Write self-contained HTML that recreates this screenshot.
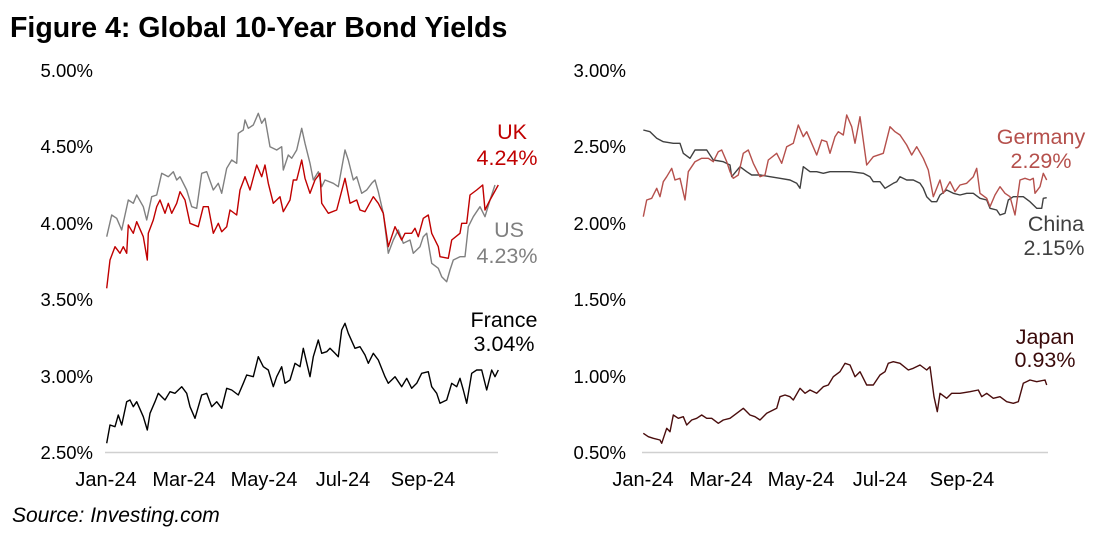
<!DOCTYPE html>
<html><head><meta charset="utf-8"><style>
body{margin:0;background:#fff;width:1104px;height:539px;overflow:hidden;font-family:"Liberation Sans",Arial,sans-serif}
</style></head><body>
<svg id="s" width="1104" height="539" xmlns="http://www.w3.org/2000/svg" font-family="Liberation Sans, Arial, sans-serif">
<text x="10" y="37" font-size="28.5" font-weight="bold">Figure 4: Global 10-Year Bond Yields</text>
<g font-size="18.5" fill="#000" text-anchor="end">
<text x="93" y="77">5.00%</text><text x="93" y="153">4.50%</text><text x="93" y="230">4.00%</text><text x="93" y="306">3.50%</text><text x="93" y="383">3.00%</text><text x="93" y="459">2.50%</text>
<text x="626" y="77">3.00%</text><text x="626" y="153">2.50%</text><text x="626" y="230">2.00%</text><text x="626" y="306">1.50%</text><text x="626" y="383">1.00%</text><text x="626" y="459">0.50%</text>
</g>
<g font-size="20" text-anchor="middle">
<text x="106" y="486">Jan-24</text><text x="184" y="486">Mar-24</text><text x="264" y="486">May-24</text><text x="343" y="486">Jul-24</text><text x="423" y="486">Sep-24</text>
<text x="643" y="486">Jan-24</text><text x="721" y="486">Mar-24</text><text x="801" y="486">May-24</text><text x="880" y="486">Jul-24</text><text x="962" y="486">Sep-24</text>
</g>
<line x1="105" y1="452.5" x2="498" y2="452.5" stroke="#d0d0d0" stroke-width="1.5"/>
<line x1="642" y1="452.5" x2="1048" y2="452.5" stroke="#d0d0d0" stroke-width="1.5"/>
<g font-size="21.5" text-anchor="middle">
<text x="512" y="139" fill="#c00000">UK</text><text x="507" y="165" fill="#c00000">4.24%</text>
<text x="509" y="237" fill="#808080">US</text><text x="507" y="263" fill="#808080">4.23%</text>
<text x="504" y="327" fill="#000">France</text><text x="504" y="351" fill="#000">3.04%</text>
<text x="1041" y="144" fill="#b5504c">Germany</text><text x="1041" y="168" fill="#b5504c">2.29%</text>
<text x="1056" y="231" fill="#404040">China</text><text x="1054" y="255" fill="#404040">2.15%</text>
<text x="1045" y="344" fill="#3a0a0a">Japan</text><text x="1045" y="367" fill="#3a0a0a">0.93%</text>
</g>
<text x="12" y="522" font-size="21" font-style="italic">Source: Investing.com</text>
<g id="lines" fill="none" stroke-width="1.4" stroke-linejoin="round"></g>
</svg>
<script>
const L=[
["#808080",90,"50,410 65,345 80,355 95,390 115,300 130,310 140,285 160,320 170,360 185,290 200,285 215,220 235,230 250,215 260,240 270,230 290,270 305,320 320,325 335,220 350,215 370,270 385,250 395,280 410,205 425,180 440,190 445,100 460,90 465,60 475,85 490,75 505,40 515,70 525,55 540,140 560,150 575,140 580,210 595,165 605,175 620,150 635,85 645,130 660,190 670,240 685,215 695,260 705,240 730,250 745,260 765,150 775,180 790,240 800,230 815,280 830,270 845,250 855,240 865,275 880,340 895,460 910,420 925,390 940,430 960,420 970,460 990,440 1000,410 1010,400 1025,490 1045,505 1055,530 1070,545 1080,510 1090,480 1110,470 1125,470 1135,380 1150,350 1170,320 1185,350 1200,300 1215,255"],
["#c00000",90,"50,565 60,480 75,440 90,460 100,440 110,460 115,375 130,400 140,365 160,410 172,480 175,400 190,360 200,320 210,300 225,340 235,310 245,340 260,310 270,275 285,300 300,370 325,380 340,320 355,320 370,400 385,370 395,395 410,380 420,330 440,345 450,270 465,230 480,270 500,195 515,230 525,195 535,250 550,310 570,290 580,335 600,300 610,240 620,240 635,180 645,235 660,280 675,240 690,220 695,310 715,340 740,330 765,235 780,310 800,300 810,330 825,335 850,290 865,310 880,340 895,440 915,380 935,420 945,400 965,400 975,385 985,410 1000,355 1015,345 1025,400 1045,440 1050,470 1075,475 1085,420 1110,400 1115,370 1130,370 1140,285 1160,270 1178,255 1185,330 1200,300 1225,255"],
["#000",90,"50,1030 60,975 75,980 85,945 95,975 110,905 120,900 130,920 140,905 160,950 172,990 180,940 195,905 205,880 215,890 225,900 240,875 255,880 275,860 290,880 300,920 315,955 335,885 350,880 365,920 380,905 395,925 410,865 425,870 445,885 460,850 470,825 490,830 505,770 520,800 535,810 550,860 560,830 575,800 585,850 600,840 615,790 630,800 640,745 660,830 670,770 685,720 695,760 710,755 720,745 735,760 745,770 755,690 765,670 775,700 795,745 810,740 825,765 835,790 850,760 865,780 885,830 895,850 915,830 935,860 950,835 965,865 980,850 995,820 1015,815 1025,860 1040,880 1050,910 1070,900 1085,850 1100,860 1110,835 1120,870 1130,910 1145,820 1160,810 1175,810 1190,870 1205,810 1215,830 1225,810"],
["#404040",630,"40,90 60,95 80,115 100,125 130,130 150,130 160,160 180,175 195,150 230,150 250,180 280,185 300,195 305,230 330,200 350,215 365,225 390,225 420,230 450,235 480,240 500,250 510,265 520,200 540,215 560,215 580,220 600,215 640,215 660,215 700,220 720,230 730,245 750,245 765,265 790,250 800,245 810,230 830,240 850,240 870,250 880,265 890,290 905,305 920,305 930,285 950,270 970,280 990,285 1010,280 1030,280 1050,295 1070,300 1080,325 1100,330 1110,345 1125,340 1135,300 1150,290 1180,290 1200,305 1220,325 1235,325 1240,295 1250,293"],
["#b5504c",630,"40,350 50,300 65,295 80,265 90,290 100,245 110,230 125,205 135,240 150,235 165,300 175,215 195,185 215,175 235,175 250,185 265,155 275,150 290,185 300,215 310,235 325,225 340,160 355,150 370,190 390,230 405,225 415,180 440,160 455,190 470,140 490,130 505,75 520,110 530,95 545,130 560,165 575,120 590,125 600,160 615,110 625,95 640,105 650,45 665,80 675,130 690,50 710,195 730,170 760,160 780,80 795,95 810,105 830,135 845,165 860,140 880,175 895,210 910,290 930,240 940,280 960,245 975,275 990,255 1010,250 1030,230 1040,205 1050,280 1070,295 1080,320 1095,285 1110,260 1125,280 1140,290 1155,345 1170,240 1185,235 1200,240 1210,235 1215,280 1230,260 1240,220 1250,240"],
["#4a0d0d",630,"40,1000 55,1010 70,1015 90,1020 95,1030 110,985 120,995 130,945 145,955 160,950 170,975 185,960 200,955 215,945 230,955 245,955 265,970 280,960 300,955 320,940 340,925 360,945 375,950 390,960 410,940 440,925 450,890 465,885 480,890 490,900 510,865 525,880 540,870 560,880 580,860 595,855 610,830 630,815 645,790 660,795 675,830 690,815 710,855 730,855 750,825 765,815 775,790 790,785 810,790 835,810 850,805 870,795 890,810 900,800 912,890 922,935 930,880 950,895 965,880 990,880 1020,875 1045,870 1055,890 1070,880 1090,895 1110,890 1130,905 1150,910 1165,905 1180,850 1200,840 1220,845 1245,840 1250,855"]];
const g=document.getElementById('lines');
L.forEach(([c,ox,p])=>{
 const pts=p.split(' ').map(s=>{const [a,b]=s.split(',').map(Number);return (ox+a/3).toFixed(1)+','+(100+b/3).toFixed(1)}).join(' ');
 const e=document.createElementNS('http://www.w3.org/2000/svg','polyline');
 e.setAttribute('points',pts);e.setAttribute('stroke',c);g.appendChild(e);
});
</script>
</body></html>
